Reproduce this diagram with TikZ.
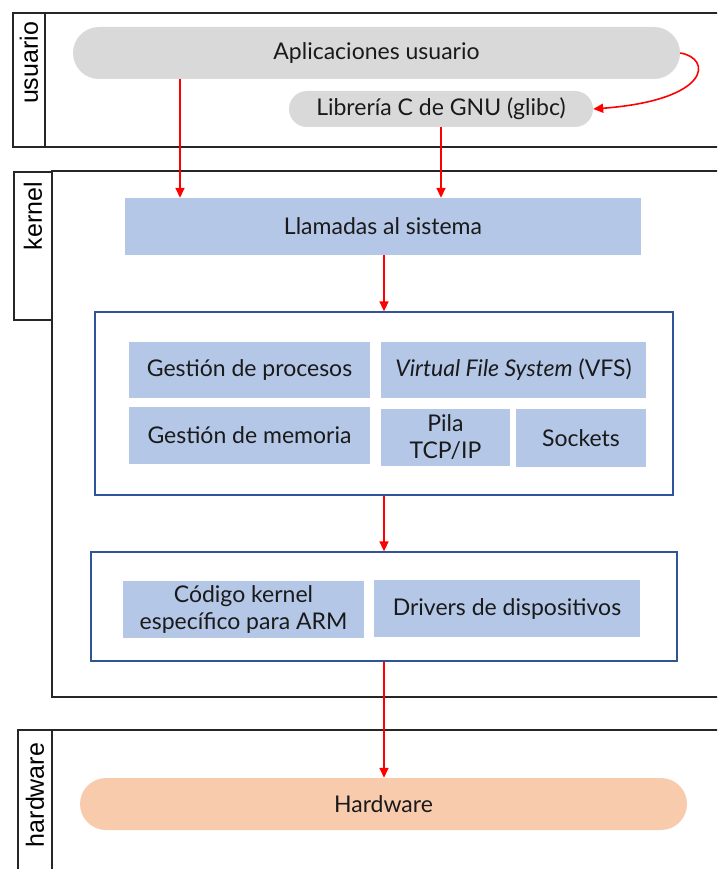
\documentclass[tikz,border=0pt]{standalone}
\usepackage{fontspec}
\setmainfont{Lato}
\newfontfamily\lanefont{Liberation Sans}
\usetikzlibrary{arrows.meta}
\definecolor{lightgray}{HTML}{D9D9D9}
\definecolor{layerblue}{HTML}{B4C7E7}
\definecolor{frameblue}{HTML}{2F5597}
\definecolor{hwpeach}{HTML}{F8CBAD}
\definecolor{txt}{HTML}{1A1A1A}
\definecolor{arrred}{HTML}{FF0000}
\tikzset{
  lane/.style={draw=black!85, line width=1.6pt},
  lanelabel/.style={font=\lanefont\fontsize{25}{27}\selectfont, rotate=90, inner sep=0pt, text=black},
  pill/.style={rectangle, inner sep=0pt, text=txt, font=\fontsize{23}{26}\selectfont,
               rounded corners=#1},
  block/.style={rectangle, fill=layerblue, inner sep=0pt, text=txt, align=center,
                font=\fontsize{23}{27}\selectfont},
  group/.style={rectangle, draw=frameblue, line width=1.3pt, inner sep=0pt},
  arr/.style={draw=arrred, line width=1.6pt, -{Triangle[length=10pt,width=9pt]}},
}
\begin{document}
\begin{tikzpicture}[x=1pt,y=-1pt]
\useasboundingbox (0,0) rectangle (717,869);
\clip (0,0) rectangle (717,869);

% lanes
\draw[lane] (13,13) rectangle (740,147);
\draw[lane] (45,13) -- (45,147);
\node[lanelabel] (lbluser) at (29,63) {usuario};

\draw[lane] (52,171) rectangle (740,697);
\draw[lane] (14,172) rectangle (52,320);
\node[lanelabel] (lblkernel) at (33,216) {kernel};

\draw[lane] (18,730) rectangle (740,900);
\draw[lane] (52,730) -- (52,900);
\node[lanelabel] (lblhw) at (35,795) {hardware};

% user space
\node[pill=26pt, fill=lightgray, minimum width=607pt, minimum height=52pt] (apps) at (376.5,53) {Aplicaciones usuario};
\node[pill=18pt, fill=lightgray, minimum width=304pt, minimum height=36pt] (glibc) at (441,109) {Librería C de GNU (glibc)};

% kernel
\node[block, minimum width=516pt, minimum height=57pt] (calls) at (383,226.5) {Llamadas al sistema};

\node[group, minimum width=578pt, minimum height=183pt] (core) at (384,403.5) {};
\node[block, minimum width=241pt, minimum height=56pt] (procs) at (249.5,370) {Gestión de procesos};
\node[block, minimum width=265pt, minimum height=56pt] (vfs) at (513.5,370) {\textit{Virtual File System} (VFS)};
\node[block, minimum width=241pt, minimum height=57pt] (mem) at (249.5,435.5) {Gestión de memoria};
\node[block, minimum width=129pt, minimum height=57pt] (tcp) at (445.5,437.5) {Pila\\TCP/IP};
\node[block, minimum width=130pt, minimum height=58pt] (sock) at (581,438) {Sockets};

\node[group, minimum width=586pt, minimum height=109pt] (arch) at (384,606.5) {};
\node[block, minimum width=241pt, minimum height=57pt] (arm) at (243.5,609.5) {Código kernel\\específico para ARM};
\node[block, minimum width=266pt, minimum height=57pt] (drv) at (507,608.5) {Drivers de dispositivos};

% hardware
\node[pill=26pt, fill=hwpeach, minimum width=607pt, minimum height=52pt] (hw) at (383.5,804) {Hardware};

% connectors
\coordinate (appx) at (180,0);
\coordinate (spine) at (384,0);
\draw[arr] (apps.south -| appx) -- (calls.north -| appx);
\draw[arr] (glibc.south) -- (glibc.south |- calls.north);
\draw[arr] (apps.east) .. controls (712,58) and (712,100) .. (glibc.east);
\draw[arr] (calls.south -| spine) -- (core.north -| spine);
\draw[arr] (core.south -| spine) -- (arch.north -| spine);
\draw[arr] (arch.south -| spine) -- (hw.north -| spine);
\end{tikzpicture}
\end{document}
